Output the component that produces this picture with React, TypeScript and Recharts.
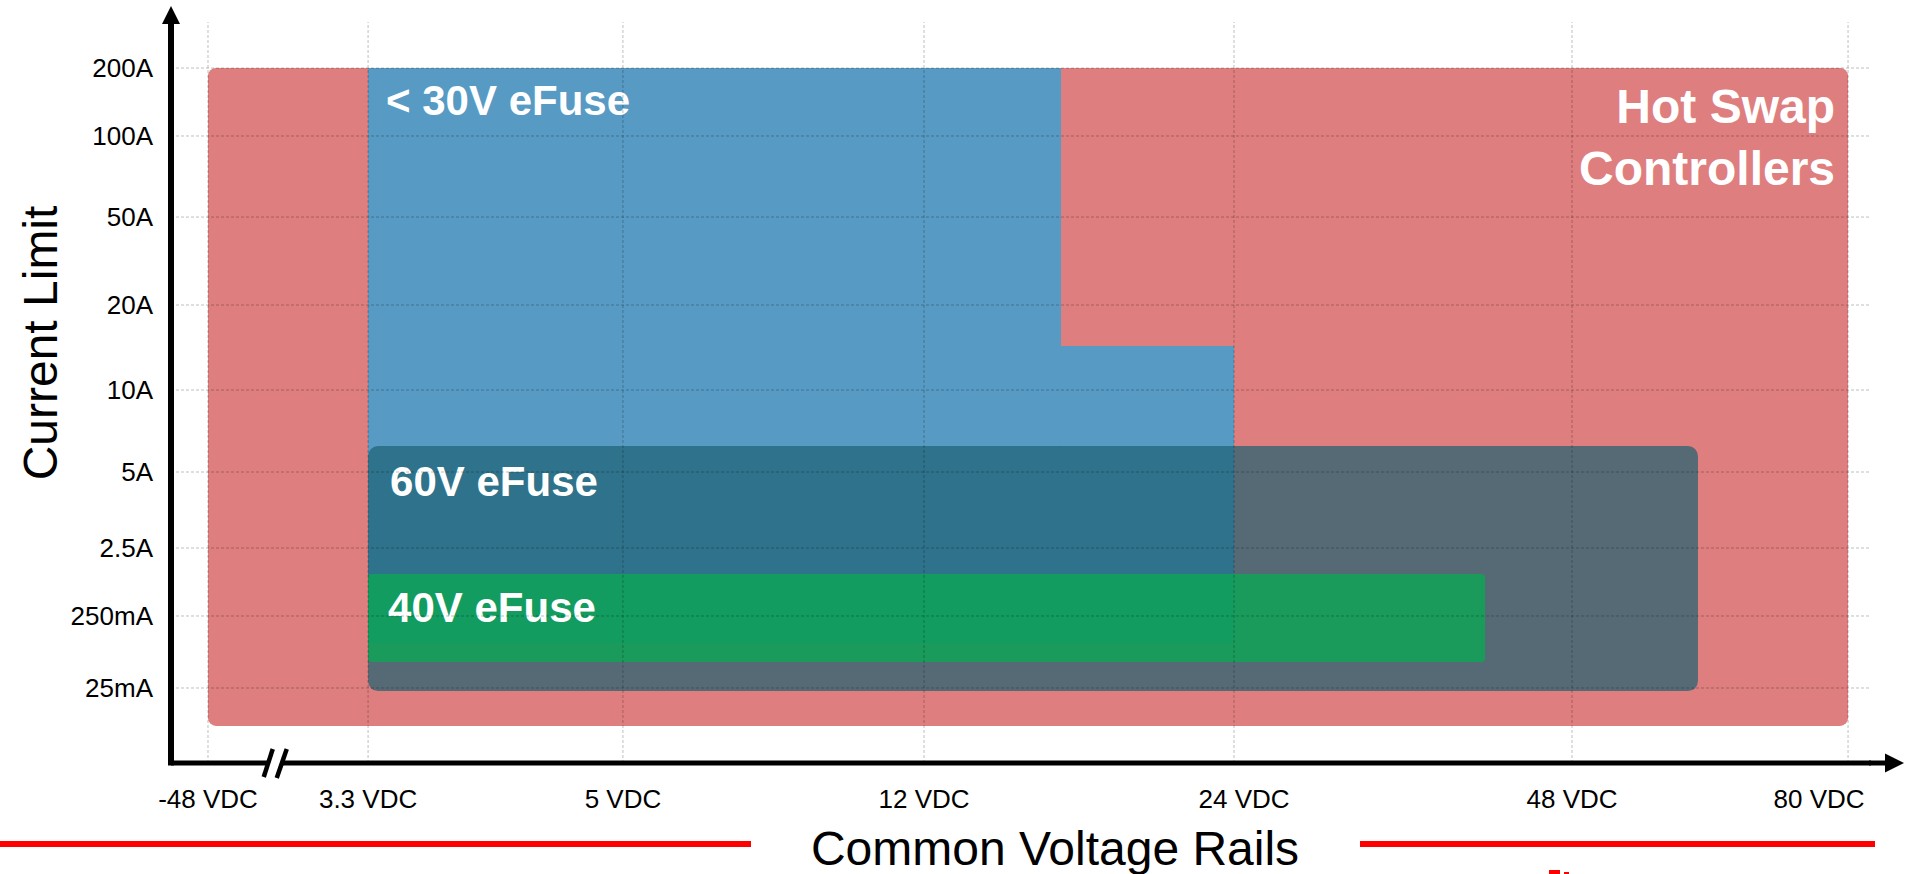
import React from 'react';
import { ComposedChart, XAxis, YAxis, ReferenceArea, ReferenceDot, ReferenceLine } from 'recharts';

const FONT = '"Liberation Sans", Arial, Helvetica, sans-serif';

// Voltage rails (x axis). Positions are on an ordinal-like scale (-48 VDC = 0, 80 VDC = 10)
const railLabels = ['-48 VDC', '3.3 VDC', '5 VDC', '12 VDC', '24 VDC', '48 VDC', '80 VDC'];
const railPositions = [0, 0.976, 2.53, 4.366, 6.256, 8.317, 10];

// Current limits (y axis). Positions on the picture's non-uniform level scale (25mA = 0, 200A = 8)
const currentLabels = ['25mA', '250mA', '2.5A', '5A', '10A', '20A', '50A', '100A', '200A'];
const currentPositions = [0, 0.929, 1.806, 2.787, 3.845, 4.942, 6.077, 7.123, 8];

// Product regions
const regionNames = ['Hot Swap Controllers', '< 30V eFuse', '< 30V eFuse (extension)', '60V eFuse', '40V eFuse'];
const regionX1 = [0, 0.976, 5.201, 0.976, 0.976];
const regionX2 = [10, 5.201, 6.256, 9.085, 7.787];
const regionY1 = [-0.49, 0.581, 0.581, -0.04, 0.335];
const regionY2 = [8, 8, 4.413, 3.123, 1.471];
const regionText: string[][] = [['Hot Swap', 'Controllers'], ['< 30V eFuse'], [], ['60V eFuse'], ['40V eFuse']];

// Axis break location (between -48 VDC and 3.3 VDC)
const axisBreakAt = 0.41;

const X_DOMAIN: [number, number] = [-0.2256, 10.14];
const Y_DOMAIN: [number, number] = [-0.968, 8.594];

// styles (not data)
const regionFill = ['#de7e7e', '#579ac3', '#579ac3', '#1c6374', '#0ba655'];
const regionOpacity = [1, 1, 1, 0.7, 0.8];
const regionRadius = [8, 0, 0, 10, 4];
const labelStyle = [
  { align: 'end', dx: -13, dy: 55, size: 48, lh: 62 },
  { align: 'start', dx: 18, dy: 47, size: 42, lh: 0 },
  { align: 'start', dx: 0, dy: 0, size: 42, lh: 0 },
  { align: 'start', dx: 22, dy: 50, size: 42, lh: 0 },
  { align: 'start', dx: 20, dy: 48, size: 42, lh: 0 },
];
const xTickShift = [0, 0, 0, 0, 10, 0, -29];
const GRID = { stroke: '#000', strokeOpacity: 0.25, strokeDasharray: '3 2', strokeWidth: 1 };

const makeShape = (i: number) => (p: any) => (
  <rect
    x={p.x}
    y={p.y}
    width={p.width}
    height={p.height}
    rx={regionRadius[i]}
    ry={regionRadius[i]}
    fill={regionFill[i]}
    fillOpacity={regionOpacity[i]}
    stroke="none"
  />
);

const makeLabel = (i: number) => (props: any) => {
  const vb = props.viewBox || {};
  const s = labelStyle[i];
  const lines = regionText[i];
  if (!lines.length) return null;
  const x = s.align === 'end' ? vb.x + vb.width + s.dx : vb.x + s.dx;
  return (
    <text
      x={x}
      y={vb.y + s.dy}
      textAnchor={s.align}
      fill="#ffffff"
      fontFamily={FONT}
      fontWeight="bold"
      fontSize={s.size}
    >
      {lines.map((l, k) => (
        <tspan key={k} x={x} dy={k === 0 ? 0 : s.lh}>
          {l}
        </tspan>
      ))}
    </text>
  );
};

const XTick = (props: any) => {
  const { x, y, payload } = props;
  const idx = railPositions.indexOf(payload.value);
  return (
    <text
      x={x + (xTickShift[idx] || 0)}
      y={y + 42.5}
      textAnchor="middle"
      fill="#000"
      fontFamily={FONT}
      fontSize={26}
    >
      {railLabels[idx]}
    </text>
  );
};

const YArrow = (p: any) => {
  const { cx, cy } = p;
  return (
    <g>
      <line x1={cx} y1={cy + 2} x2={cx} y2={cy - 4} stroke="#000" strokeWidth={6} />
      <polygon points={`${cx},${cy - 16} ${cx - 9},${cy + 2} ${cx + 9},${cy + 2}`} fill="#000" />
    </g>
  );
};

const XArrow = (p: any) => {
  const { cx, cy } = p;
  return (
    <g>
      <line x1={cx - 2} y1={cy} x2={cx + 16} y2={cy} stroke="#000" strokeWidth={5} />
      <polygon points={`${cx + 33},${cy} ${cx + 14},${cy - 9.5} ${cx + 14},${cy + 9.5}`} fill="#000" />
    </g>
  );
};

const Corner = (p: any) => {
  const { cx, cy } = p;
  return <rect x={cx - 3} y={cy - 3} width={6} height={5.5} fill="#000" />;
};

const AxisBreak = (p: any) => {
  const { cx, cy } = p;
  return (
    <g>
      <polygon
        points={`${cx - 8},${cy - 4} ${cx + 8},${cy - 4} ${cx + 6},${cy + 4} ${cx - 9},${cy + 4}`}
        fill="#fff"
      />
      <line x1={cx - 11.5} y1={cy + 14} x2={cx - 2.5} y2={cy - 14} stroke="#000" strokeWidth={4.5} />
      <line x1={cx + 1.5} y1={cy + 15} x2={cx + 11.5} y2={cy - 14} stroke="#000" strokeWidth={4.5} />
    </g>
  );
};

const YTitle = (props: any) => {
  const vb = props.viewBox || { x: 0, y: 22 };
  const x = vb.x + 57;
  const y = vb.y + 321;
  return (
    <text
      x={x}
      y={y}
      transform={`rotate(-90, ${x}, ${y})`}
      textAnchor="middle"
      fill="#000"
      fontFamily={FONT}
      fontSize={48}
    >
      Current Limit
    </text>
  );
};

const XTitle = (props: any) => {
  const vb = props.viewBox || { x: 171, y: 763 };
  return (
    <text x={1055} y={vb.y + 102} textAnchor="middle" fill="#000" fontFamily={FONT} fontSize={48}>
      Common Voltage Rails
    </text>
  );
};

export default function App() {
  return (
    <div
      style={{
        position: 'absolute',
        left: 0,
        top: 0,
        width: 1905,
        height: 874,
        overflow: 'hidden',
        background: '#fff',
      }}
    >
      <ComposedChart width={1905} height={874} data={[]} margin={{ top: 22, right: 34, bottom: 0, left: 0 }}>
        <XAxis
          type="number"
          dataKey="x"
          domain={X_DOMAIN}
          ticks={railPositions}
          interval={0}
          allowDataOverflow
          height={111}
          tickSize={0}
          tickLine={false}
          axisLine={{ stroke: '#000', strokeWidth: 5 }}
          tick={<XTick />}
          label={XTitle}
        />
        <YAxis
          type="number"
          dataKey="y"
          domain={Y_DOMAIN}
          ticks={currentPositions}
          interval={0}
          allowDataOverflow
          width={171}
          tickSize={0}
          tickMargin={18}
          tickLine={false}
          axisLine={{ stroke: '#000', strokeWidth: 6 }}
          tick={{ fill: '#000', fontSize: 26, fontFamily: FONT }}
          tickFormatter={(v: number) => currentLabels[currentPositions.indexOf(v)]}
          label={YTitle}
        />
        {regionNames.map((name, i) => (
          <ReferenceArea
            key={name}
            x1={regionX1[i]}
            x2={regionX2[i]}
            y1={regionY1[i]}
            y2={regionY2[i]}
            shape={makeShape(i)}
            label={makeLabel(i)}
            ifOverflow="visible"
          />
        ))}
        {railPositions.map((v) => (
          <ReferenceLine key={'gx' + v} x={v} ifOverflow="visible" {...GRID} />
        ))}
        {currentPositions.map((v) => (
          <ReferenceLine key={'gy' + v} y={v} ifOverflow="visible" {...GRID} />
        ))}
        <ReferenceDot x={X_DOMAIN[0]} y={Y_DOMAIN[1]} ifOverflow="visible" shape={YArrow} />
        <ReferenceDot x={X_DOMAIN[1]} y={Y_DOMAIN[0]} ifOverflow="visible" shape={XArrow} />
        <ReferenceDot x={X_DOMAIN[0]} y={Y_DOMAIN[0]} ifOverflow="visible" shape={Corner} />
        <ReferenceDot x={axisBreakAt} y={Y_DOMAIN[0]} ifOverflow="visible" shape={AxisBreak} />
      </ComposedChart>
      <div style={{ position: 'absolute', left: 0, top: 841, width: 751, height: 6, background: '#ff0000' }} />
      <div style={{ position: 'absolute', left: 1360, top: 841, width: 515, height: 6, background: '#ff0000' }} />
      <div style={{ position: 'absolute', left: 1549, top: 870, width: 11, height: 4, background: '#ff0000' }} />
      <div style={{ position: 'absolute', left: 1564, top: 872, width: 5, height: 2, background: '#ff0000' }} />
    </div>
  );
}
